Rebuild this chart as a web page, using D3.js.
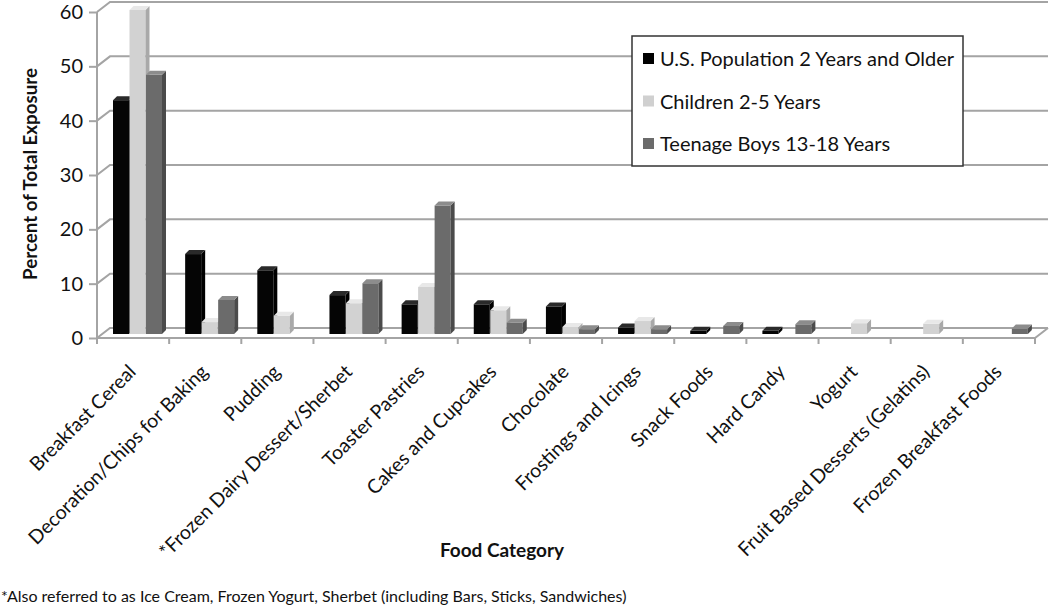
<!DOCTYPE html>
<html>
<head>
<meta charset="utf-8">
<script src="https://cdn.jsdelivr.net/npm/d3@7"></script>
<style>
  body { margin: 0; background: #fff; }
  svg { display: block; font-family: Lato, "Open Sans", sans-serif; }
</style>
</head>
<body>
<svg id="chart" width="1050" height="609"></svg>
<script>
// chart data
var categories = [
  'Breakfast Cereal', 'Decoration/Chips for Baking', 'Pudding',
  '*Frozen Dairy Dessert/Sherbet', 'Toaster Pastries', 'Cakes and Cupcakes',
  'Chocolate', 'Frostings and Icings', 'Snack Foods', 'Hard Candy',
  'Yogurt', 'Fruit Based Desserts (Gelatins)', 'Frozen Breakfast Foods'
];
var seriesNames = ['U.S. Population 2 Years and Older', 'Children 2-5 Years', 'Teenage Boys 13-18 Years'];
var usPopulation = [43.3, 14.8, 11.8, 7.2, 5.5, 5.5, 5.1, 1.2, 0.6, 0.6, null, null, null];
var children = [60.0, 2.2, 3.4, 5.7, 8.7, 4.4, 1.3, 2.4, null, null, 2.0, 1.9, null];
var teenBoys = [48.0, 6.3, null, 9.4, 23.8, 2.1, 0.9, 0.9, 1.5, 1.8, null, null, 1.0];
var yTicks = [0, 10, 20, 30, 40, 50, 60];
var footnote = '*Also referred to as Ice Cream, Frozen Yogurt, Sherbet (including Bars, Sticks, Sandwiches)';

var seriesValues = [usPopulation, children, teenBoys];

// colours per series: front face, top face, side face
var faces = [
  { front: '#050505', top: '#2a2a2a', side: '#000000', key: '#000000' },
  { front: '#d2d2d2', top: '#e8e8e8', side: '#a9a9a9', key: '#d0d0d0' },
  { front: '#6b6b6b', top: '#8c8c8c', side: '#4b4b4b', key: '#6b6b6b' }
];

var svg = d3.select('#chart');

// 3D-ish layout: front plane + back wall offset
var depthX = 13, depthY = -10;
var x = d3.scaleBand().domain(categories).range([97, 1035]).padding(0);
var yFront = d3.scaleLinear().domain([0, 60]).range([338, 12]);
var yBack = d3.scaleLinear().domain([0, 60]).range([328, 2]);
var yBar = d3.scaleLinear().domain([0, 60]).range([334, 10]);
var inner = d3.scaleBand().domain(d3.range(3)).range([16, 65]).paddingInner(0.03);

var gridColor = '#a4a4a4';
var textColor = '#111';

// ── walls / gridlines ─────────────────────────────
var grid = svg.append('g').attr('stroke', gridColor).attr('stroke-width', 2).attr('fill', 'none');
grid.selectAll('path.grid').data(yTicks).join('path')
  .attr('class', 'grid')
  .attr('d', function(v) {
    return 'M' + x.range()[0] + ',' + yFront(v) +
      'L' + (x.range()[0] + depthX) + ',' + yBack(v) +
      'L' + (x.range()[1] + depthX) + ',' + yBack(v);
  });

// floor front edge and right side
grid.append('path')
  .attr('d', 'M' + x.range()[0] + ',' + yFront(0) + 'L' + x.range()[1] + ',' + yFront(0) +
    'L' + (x.range()[1] + depthX) + ',' + yBack(0));

// vertical axis line
grid.append('line')
  .attr('x1', x.range()[0]).attr('x2', x.range()[0])
  .attr('y1', yFront(60)).attr('y2', yFront(0));

// category tick marks
grid.selectAll('line.xt').data(categories.concat(['__end'])).join('line')
  .attr('class', 'xt')
  .attr('x1', function(d, i) { return x.range()[0] + i * x.step(); })
  .attr('x2', function(d, i) { return x.range()[0] + i * x.step(); })
  .attr('y1', yFront(0)).attr('y2', yFront(0) + 6);

// ── y axis ────────────────────────────────────────
var yAxis = svg.append('g')
  .attr('transform', 'translate(' + x.range()[0] + ',0)')
  .call(d3.axisLeft(yFront).tickValues(yTicks).tickSize(8).tickPadding(6));
yAxis.select('.domain').remove();
yAxis.selectAll('.tick line').attr('stroke', gridColor).attr('stroke-width', 2);
yAxis.selectAll('.tick text').attr('font-size', 20).attr('fill', textColor)
  .style('font-family', 'Lato, sans-serif');

// ── bars ──────────────────────────────────────────
var bdx = 4, bdy = -4;
var base = yBar(0);
var barData = [];
categories.forEach(function(c, ci) {
  seriesValues.forEach(function(vals, si) {
    if (vals[ci] != null) barData.push({ cat: c, s: si, v: vals[ci] });
  });
});

var bars = svg.append('g').selectAll('g.bar').data(barData).join('g').attr('class', 'bar');
bars.each(function(d) {
  var g = d3.select(this);
  var x0 = x(d.cat) + inner(d.s);
  var w = inner.bandwidth();
  var top = yBar(d.v);
  var f = faces[d.s];
  g.append('rect').attr('x', x0).attr('y', top).attr('width', w).attr('height', base - top)
    .attr('fill', f.front);
  g.append('path')
    .attr('d', 'M' + (x0 + w) + ',' + top + 'L' + (x0 + w + bdx) + ',' + (top + bdy) +
      'L' + (x0 + w + bdx) + ',' + (base + bdy) + 'L' + (x0 + w) + ',' + base + 'Z')
    .attr('fill', f.side);
  g.append('path')
    .attr('d', 'M' + x0 + ',' + top + 'L' + (x0 + bdx) + ',' + (top + bdy) +
      'L' + (x0 + w + bdx) + ',' + (top + bdy) + 'L' + (x0 + w) + ',' + top + 'Z')
    .attr('fill', f.top);
});

// ── category labels ───────────────────────────────
svg.append('g').selectAll('text').data(categories).join('text')
  .attr('transform', function(d) {
    return 'translate(' + (x(d) + x.bandwidth() / 2 + 4) + ',373) rotate(-45)';
  })
  .attr('text-anchor', 'end')
  .attr('font-size', 19.5)
  .attr('fill', textColor)
  .text(function(d) { return d; });

// ── axis titles ───────────────────────────────────
svg.append('text')
  .attr('transform', 'translate(37,174) rotate(-90)')
  .attr('text-anchor', 'middle')
  .attr('font-size', 18.7).attr('font-weight', 'bold').attr('fill', textColor)
  .text('Percent of Total Exposure');

svg.append('text')
  .attr('x', 502).attr('y', 557)
  .attr('text-anchor', 'middle')
  .attr('font-size', 19).attr('font-weight', 'bold').attr('fill', textColor)
  .text('Food Category');

svg.append('text')
  .attr('x', 1).attr('y', 602)
  .attr('font-size', 16).attr('fill', textColor)
  .text(footnote);

// ── legend ────────────────────────────────────────
var legend = svg.append('g').attr('transform', 'translate(632,36)');
legend.append('rect').attr('width', 331).attr('height', 130)
  .attr('fill', '#fff').attr('stroke', '#333').attr('stroke-width', 1.5);
var rows = legend.selectAll('g.row').data(seriesNames).join('g').attr('class', 'row')
  .attr('transform', function(d, i) { return 'translate(11,' + (30 + i * 42.5) + ')'; });
rows.append('rect').attr('x', 0).attr('y', -13).attr('width', 11).attr('height', 11)
  .attr('fill', function(d, i) { return faces[i].key; });
rows.append('text').attr('x', 17).attr('y', 0)
  .attr('font-size', 20).attr('fill', textColor)
  .text(function(d) { return d; });
</script>
</body>
</html>
